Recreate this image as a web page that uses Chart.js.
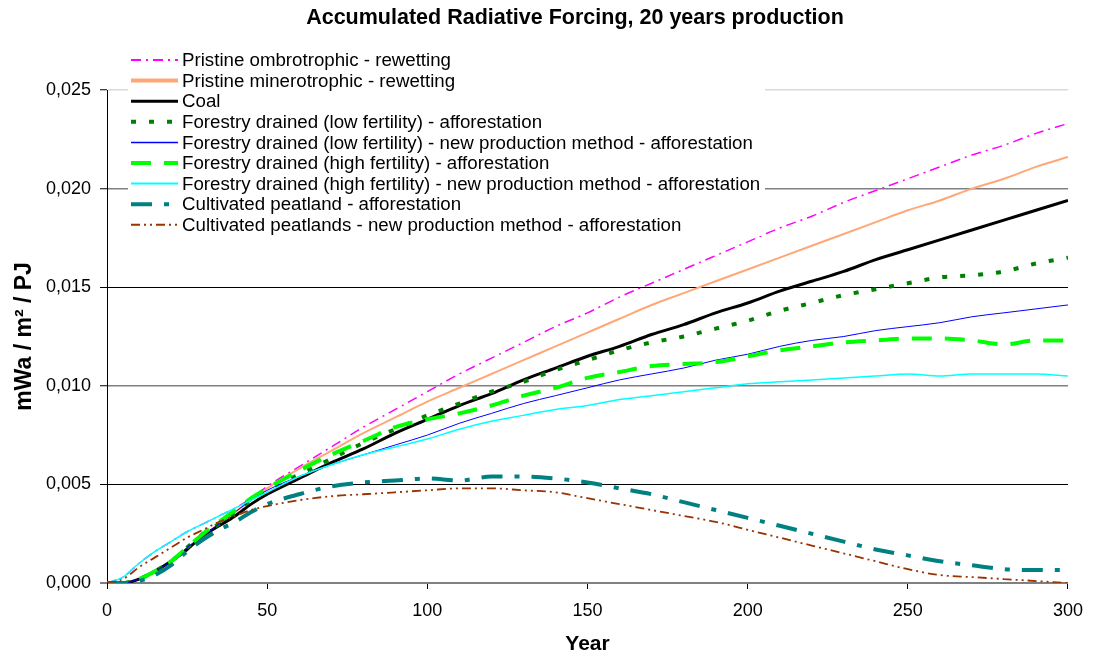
<!DOCTYPE html>
<html><head><meta charset="utf-8">
<script src="https://cdn.jsdelivr.net/npm/chart.js@4.4.1/dist/chart.umd.min.js"></script>
<style>html,body{margin:0;padding:0;background:#fff;} #wrap{width:1094px;height:655px;position:relative}</style>
</head><body><div id="wrap"><canvas id="c" width="1094" height="655"></canvas></div>
<script>
const chartTitle = 'Accumulated Radiative Forcing, 20 years production';
const xTitle = 'Year';
const yTitle = 'mWa / m² / PJ';
const years = [0,5,10,15,20,25,30,35,40,45,50,60,70,80,90,100,110,120,130,140,150,160,170,180,190,200,210,220,230,240,250,260,270,280,290,300];
const seriesNames = [
  'Pristine ombrotrophic - rewetting',
  'Pristine minerotrophic - rewetting',
  'Coal',
  'Forestry drained (low fertility) - afforestation',
  'Forestry drained (low fertility) - new production method - afforestation',
  'Forestry drained (high fertility) - afforestation',
  'Forestry drained (high fertility) - new production method - afforestation',
  'Cultivated peatland - afforestation',
  'Cultivated peatlands - new production method - afforestation'
];
const ombrotrophic = [0,0.0003,0.001,0.0016,0.0021,0.0026,0.003,0.0034,0.0038,0.0043,0.0049,0.0059,0.0069,0.0079,0.0088,0.0097,0.0106,0.0114,0.0122,0.013,0.0137,0.0145,0.0152,0.0159,0.0166,0.0173,0.018,0.0186,0.0193,0.0199,0.0205,0.0211,0.0217,0.0222,0.0228,0.0233];
const minerotrophic = [0,0,0.0002,0.0006,0.0011,0.0017,0.0024,0.003,0.0036,0.0042,0.0048,0.0058,0.0067,0.0076,0.0084,0.0092,0.0099,0.0106,0.0113,0.012,0.0127,0.0134,0.0141,0.0147,0.0153,0.0159,0.0165,0.0171,0.0177,0.0183,0.0189,0.0194,0.02,0.0205,0.0211,0.0216];
const coal = [0,0,0.0002,0.0006,0.0011,0.0017,0.0024,0.0029,0.0034,0.004,0.0045,0.0053,0.0061,0.0068,0.0076,0.0083,0.009,0.0096,0.0103,0.0109,0.0115,0.012,0.0126,0.0131,0.0137,0.0142,0.0148,0.0153,0.0158,0.0164,0.0169,0.0174,0.0179,0.0184,0.0189,0.0194];
const lowFertAff = [0,0,0.0002,0.0006,0.0011,0.0018,0.0025,0.003,0.0036,0.0042,0.0047,0.0055,0.0063,0.0071,0.0078,0.0085,0.0091,0.0097,0.0102,0.0108,0.0113,0.0118,0.0122,0.0125,0.0129,0.0133,0.0138,0.0142,0.0146,0.0149,0.0152,0.0155,0.0156,0.0158,0.0162,0.0165];
const lowFertNew = [0,0,0.0002,0.0006,0.0011,0.0018,0.0024,0.003,0.0036,0.0042,0.0047,0.0054,0.006,0.0065,0.007,0.0075,0.0081,0.0086,0.0091,0.0095,0.0099,0.0103,0.0106,0.0109,0.0113,0.0116,0.012,0.0123,0.0125,0.0128,0.013,0.0132,0.0135,0.0137,0.0139,0.0141];
const highFertAff = [0,0,0.0002,0.0006,0.0011,0.0018,0.0025,0.0031,0.0037,0.0043,0.0048,0.0057,0.0065,0.0072,0.0079,0.0083,0.0086,0.009,0.0095,0.0099,0.0104,0.0107,0.011,0.0111,0.0112,0.0115,0.0118,0.012,0.0122,0.0123,0.0124,0.0124,0.0123,0.0121,0.0123,0.0123];
const highFertNew = [0,0.0003,0.001,0.0016,0.0021,0.0026,0.003,0.0034,0.0038,0.0042,0.0046,0.0054,0.006,0.0065,0.0069,0.0073,0.0078,0.0082,0.0085,0.0088,0.009,0.0093,0.0095,0.0097,0.0099,0.0101,0.0102,0.0103,0.0104,0.0105,0.0106,0.0105,0.0106,0.0106,0.0106,0.0105];
const cultivatedAff = [0,0,0.0001,0.0004,0.0009,0.0016,0.0022,0.0027,0.0031,0.0036,0.004,0.0045,0.0049,0.0051,0.0052,0.0053,0.0052,0.0054,0.0054,0.0053,0.0051,0.0048,0.0045,0.0041,0.0037,0.0033,0.0029,0.0025,0.0021,0.0017,0.0014,0.0011,0.0009,0.0007,0.00066,0.00066];
const cultivatedNew = [0,0.0002,0.0008,0.0013,0.0018,0.0023,0.0027,0.0031,0.0034,0.0037,0.0039,0.0042,0.0044,0.0045,0.0046,0.0047,0.0048,0.0048,0.0047,0.0046,0.0043,0.004,0.0037,0.0034,0.0031,0.0027,0.0023,0.0019,0.0015,0.0011,0.0007,0.0004,0.0003,0.0002,0.0001,0];
const yTickValues = [0,0.005,0.01,0.015,0.02,0.025];
const xTickValues = [0,50,100,150,200,250,300];

const FONT = "'Liberation Sans', Arial, Helvetica, sans-serif";
const seriesValues = [ombrotrophic, minerotrophic, coal, lowFertAff, lowFertNew, highFertAff, highFertNew, cultivatedAff, cultivatedNew];
const styles = [
  {c:'#FF00FF', w:1.5, d:[10,5,2,5], lw:2},
  {c:'#FFA877', w:2, d:[], lw:4},
  {c:'#000000', w:3, d:[], lw:3},
  {c:'#008000', w:4, d:[5,13], lw:4},
  {c:'#0000FF', w:1, d:[], lw:1.5},
  {c:'#00FF00', w:4, d:[20,13], lw:4},
  {c:'#00FFFF', w:1.5, d:[], lw:2},
  {c:'#008080', w:4, d:[21,12,5,12], lw:4},
  {c:'#993300', w:1.8, d:[9,4,2,4,2,4], lw:2}
];
const gridColors = ['#808080','#000000','#808080','#000000','#808080','#d9d9d9'];
const gridWidths = [2,1,1.5,1,1.5,1.5];

const datasets = seriesNames.map((name,i)=>({
  label: name,
  data: years.map((x,j)=>({x:x, y:seriesValues[i][j]})),
  borderColor: styles[i].c,
  backgroundColor: styles[i].c,
  borderWidth: styles[i].w,
  borderDash: styles[i].d,
  pointRadius: 0,
  fill: false,
  cubicInterpolationMode: 'monotone',
  order: seriesNames.length - i
}));

const titlePlugin = {
  id: 'mainTitle',
  afterDraw(chart){
    const ctx = chart.ctx;
    ctx.save();
    ctx.fillStyle = '#000';
    ctx.font = 'bold 21.5px ' + FONT;
    ctx.textAlign = 'center';
    ctx.textBaseline = 'middle';
    ctx.fillText(chartTitle, 575, 18);
    ctx.restore();
  }
};
const legendPlugin = {
  id: 'boxLegend',
  afterDraw(chart){
    const ctx = chart.ctx;
    ctx.save();
    ctx.fillStyle = '#fff';
    ctx.fillRect(128, 46, 637, 190);
    chart.data.datasets.forEach((ds,i)=>{
      const y = 60 + i*20.6;
      ctx.strokeStyle = ds.borderColor;
      ctx.lineWidth = styles[i].lw;
      ctx.setLineDash(ds.borderDash || []);
      ctx.beginPath();
      ctx.moveTo(131, y);
      ctx.lineTo(178, y);
      ctx.stroke();
      ctx.setLineDash([]);
      ctx.fillStyle = '#000';
      ctx.font = '18.7px ' + FONT;
      ctx.textAlign = 'left';
      ctx.textBaseline = 'middle';
      ctx.fillText(ds.label, 182, y + 1);
    });
    ctx.restore();
  }
};

new Chart(document.getElementById('c'), {
  type: 'line',
  data: { datasets },
  plugins: [titlePlugin, legendPlugin],
  options: {
    responsive: false,
    animation: false,
    layout: { padding: { top: 90, right: 21, left: 0, bottom: 0 } },
    plugins: { legend: { display: false }, title: { display: false }, tooltip: { enabled: false } },
    scales: {
      x: {
        type: 'linear', min: 0, max: 300,
        afterBuildTicks: s => { s.ticks = xTickValues.map(v=>({value:v})); },
        afterFit: s => { s.height = 72; },
        grid: { drawOnChartArea: false, drawTicks: true, tickLength: 6, tickColor: '#000', color: '#000' },
        border: { color: '#808080', width: 2 },
        ticks: { color: '#000', font: { family: FONT, size: 18 }, padding: 11, maxRotation: 0, callback: v => String(v) },
        title: { display: true, text: xTitle, color: '#000', font: { family: FONT, size: 21, weight: 'bold', lineHeight: 1 }, padding: { top: 0, bottom: 0 } }
      },
      y: {
        type: 'linear', min: 0, max: 0.025,
        afterBuildTicks: s => { s.ticks = yTickValues.map(v=>({value:v})); },
        afterFit: s => { s.width = 107; },
        grid: {
          color: c => gridColors[c.index] || '#000',
          lineWidth: c => gridWidths[c.index] || 1,
          drawTicks: true, tickLength: 7, tickColor: '#000', tickWidth: 1
        },
        border: { color: '#000', width: 1 },
        ticks: { color: '#000', font: { family: FONT, size: 18 }, padding: 9, callback: v => v.toFixed(3).replace('.', ',') },
        title: { display: true, text: yTitle, color: '#000', font: { family: FONT, size: 23, weight: 'bold', lineHeight: 1.2 }, padding: { top: 11, bottom: 0 } }
      }
    }
  }
});
</script>
</body></html>
